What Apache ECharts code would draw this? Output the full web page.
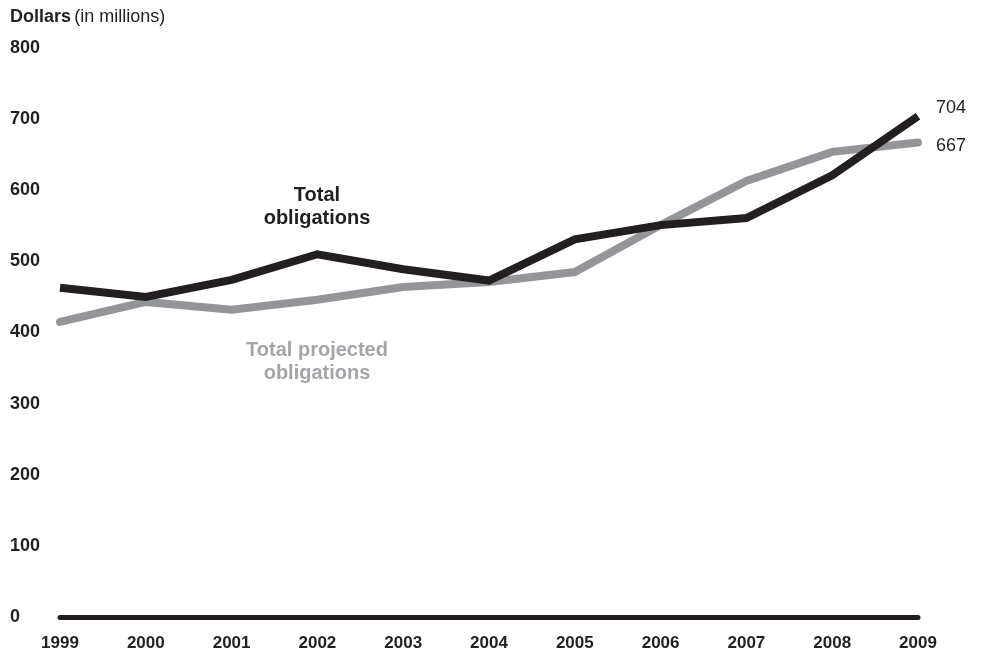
<!DOCTYPE html>
<html>
<head>
<meta charset="utf-8">
<script src="https://cdn.jsdelivr.net/npm/echarts@6/dist/echarts.min.js"></script>
<style>
  html, body { margin: 0; padding: 0; background: #fff; }
  #chart { width: 982px; height: 656px; }
</style>
</head>
<body>
<div id="chart"></div>
<script>
// Annual obligations, dollars in millions
const years = ['1999', '2000', '2001', '2002', '2003', '2004', '2005', '2006', '2007', '2008', '2009'];
const totalObligations = [463, 450, 474, 510, 489, 473, 531, 551, 561, 621, 704];
const totalProjected = [415, 443, 432, 446, 464, 471, 485, 551, 613, 654, 667];
const yTicks = [0, 100, 200, 300, 400, 500, 600, 700, 800];

const FONT = '"Liberation Sans", Arial, Helvetica, sans-serif';
const BLACK = '#231f20';
const GRAY = '#939598';

const chart = echarts.init(document.getElementById('chart'));
chart.setOption({
  animation: false,
  grid: { left: 60, right: 64, top: 48, bottom: 39 },
  graphic: [
    {
      type: 'text', left: 10, top: 8,
      style: {
        text: '{b|Dollars} {r|(in millions)}',
        rich: {
          b: { fontFamily: FONT, fontSize: 18, fontWeight: 'bold', fill: BLACK },
          r: { fontFamily: FONT, fontSize: 18, fill: BLACK }
        }
      }
    },
    {
      type: 'text', x: 317, y: 207,
      style: {
        text: 'Total\nobligations', fontFamily: FONT, fontSize: 20, fontWeight: 'bold',
        fill: BLACK, align: 'center', verticalAlign: 'middle', lineHeight: 23
      }
    },
    {
      type: 'text', x: 317, y: 362,
      style: {
        text: 'Total projected\nobligations', fontFamily: FONT, fontSize: 20, fontWeight: 'bold',
        fill: '#a3a5a8', align: 'center', verticalAlign: 'middle', lineHeight: 23
      }
    }
  ],
  xAxis: {
    type: 'category',
    data: years,
    boundaryGap: false,
    axisLine: { show: true, onZero: true, lineStyle: { color: BLACK, width: 5 } },
    axisTick: { show: false },
    axisLabel: {
      fontFamily: FONT, fontSize: 17, fontWeight: 'bold', color: BLACK, margin: 18
    },
    splitLine: { show: false }
  },
  yAxis: {
    type: 'value',
    min: yTicks[0],
    max: yTicks[yTicks.length - 1],
    interval: 100,
    axisLine: { show: false },
    axisTick: { show: false },
    splitLine: { show: false },
    axisLabel: {
      fontFamily: FONT, fontSize: 18, fontWeight: 'bold', color: BLACK,
      align: 'left', margin: 50
    }
  },
  series: [
    {
      name: 'Total projected obligations',
      type: 'line',
      data: totalProjected,
      symbol: 'none',
      z: 2,
      lineStyle: { color: GRAY, width: 8, cap: 'round', join: 'miter' },
      endLabel: {
        show: true, fontFamily: FONT, fontSize: 18, color: BLACK,
        offset: [10, 3], formatter: p => String(p.value)
      }
    },
    {
      name: 'Total obligations',
      type: 'line',
      data: totalObligations,
      symbol: 'none',
      z: 3,
      lineStyle: { color: BLACK, width: 8, cap: 'butt', join: 'miter' },
      endLabel: {
        show: true, fontFamily: FONT, fontSize: 18, color: BLACK,
        offset: [10, -8], formatter: p => String(p.value)
      }
    }
  ]
});
</script>
</body>
</html>
